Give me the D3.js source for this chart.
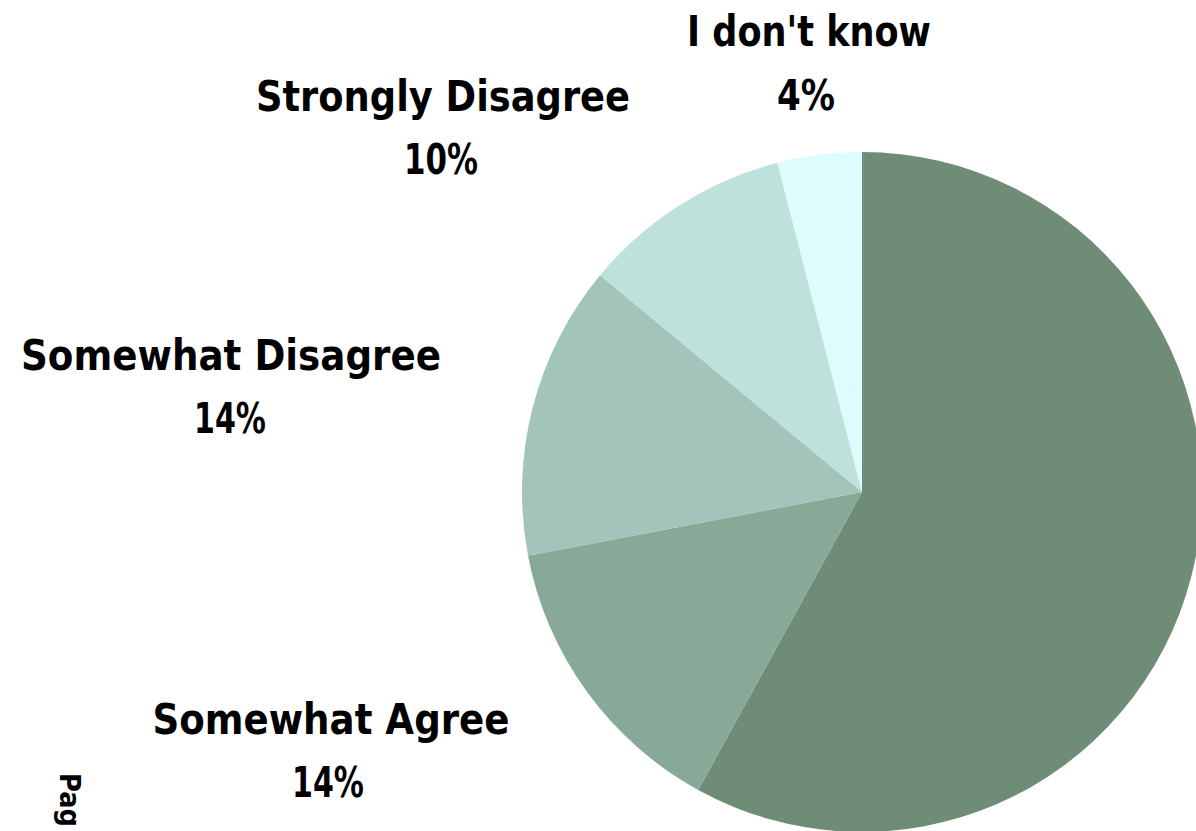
<!DOCTYPE html>
<html>
<head>
<meta charset="utf-8">
<script src="https://cdn.jsdelivr.net/npm/d3@7"></script>
<style>
  html, body { margin: 0; padding: 0; background: #ffffff; overflow: hidden; }
  svg { display: block; }
  text { font-family: "DejaVu Sans", "Lato", sans-serif; font-weight: bold; fill: #000; }
</style>
</head>
<body>
<script>
// ---- Data ----
const categories = ["Strongly Agree", "Somewhat Agree", "Somewhat Disagree", "Strongly Disagree", "I don't know"];
const percents   = [58, 14, 14, 10, 4];
const colors     = ["#6f8d76", "#88a998", "#a3c4ba", "#bfe1dc", "#dcfdfc"];
const shownLabels = ["Somewhat Agree", "Somewhat Disagree", "Strongly Disagree", "I don't know"];

// ---- Layout (presentation only) ----
const W = 1196, H = 831;
const cx = 862, cy = 492, R = 340;
const labelLayout = {
  "I don't know":      { x: 809, y: 46,  w: 244, px: 806, py: 110, pw: 58 },
  "Strongly Disagree": { x: 443, y: 111, w: 374, px: 441, py: 174, pw: 74 },
  "Somewhat Disagree": { x: 231, y: 370, w: 420, px: 230, py: 433, pw: 72 },
  "Somewhat Agree":    { x: 331, y: 734, w: 357, px: 328, py: 797, pw: 72 }
};

const svg = d3.select("body").append("svg")
  .attr("width", W).attr("height", H);

const pie = d3.pie().sort(null).value(d => d.value).startAngle(0).endAngle(2 * Math.PI);
const arc = d3.arc().innerRadius(0).outerRadius(R);
const color = d3.scaleOrdinal().domain(categories).range(colors);

const data = categories.map((c, i) => ({ name: c, value: percents[i] }));

svg.append("g")
  .attr("transform", `translate(${cx},${cy})`)
  .selectAll("path")
  .data(pie(data))
  .join("path")
  .attr("d", arc)
  .attr("fill", d => color(d.data.name));

const lg = svg.append("g");
data.filter(d => shownLabels.includes(d.name)).forEach(d => {
  const L = labelLayout[d.name];
  lg.append("text")
    .attr("x", L.x).attr("y", L.y)
    .attr("text-anchor", "middle")
    .attr("font-size", 42)
    .attr("textLength", L.w)
    .attr("lengthAdjust", "spacingAndGlyphs")
    .text(d.name);
  lg.append("text")
    .attr("x", L.px).attr("y", L.py)
    .attr("text-anchor", "middle")
    .attr("font-size", 42)
    .attr("textLength", L.pw)
    .attr("lengthAdjust", "spacingAndGlyphs")
    .text(d.value + "%");
});

// cut-off page marker at bottom-left
svg.append("text")
  .attr("transform", "translate(60,773) rotate(90)")
  .attr("font-size", 28)
  .attr("textLength", 54)
  .attr("lengthAdjust", "spacingAndGlyphs")
  .text("Pag");
</script>
</body>
</html>
